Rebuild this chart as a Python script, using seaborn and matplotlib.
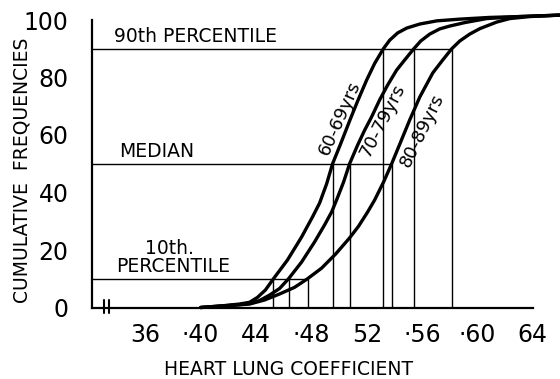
import matplotlib
matplotlib.use("Agg")
import matplotlib.pyplot as plt
import pandas as pd
import seaborn as sns

# Curves: heart lung coefficient vs cumulative frequency (%)
age_groups = ["60-69yrs", "70-79yrs", "80-89yrs"]

hlc_60 = [0.400, 0.4172, 0.4280, 0.4353, 0.4410, 0.4468, 0.4526, 0.4627, 0.4729,
          0.4808, 0.4859, 0.4910, 0.4953, 0.5011, 0.5076, 0.5134, 0.5199, 0.5257,
          0.5320, 0.5366, 0.5423, 0.5489, 0.5583, 0.5706, 0.5872, 0.6089, 0.6306,
          0.6596]
cum_60 = [0.0, 0.66, 1.2, 1.8, 3.5, 6.1, 10.0, 16.5, 24.5,
          31.5, 36.3, 43.0, 50.0, 56.9, 64.9, 71.8, 79.1, 84.9,
          90.0, 93.0, 95.5, 97.2, 98.6, 99.7, 100.3, 100.9, 101.2,
          101.7]

hlc_70 = [0.400, 0.4172, 0.4280, 0.4353, 0.4425, 0.4497, 0.4570, 0.4635, 0.4729,
          0.4823, 0.4895, 0.4946, 0.4982, 0.5033, 0.5076, 0.5134, 0.5185, 0.5235,
          0.5293, 0.5351, 0.5416, 0.5474, 0.5540, 0.5590, 0.5655, 0.5727, 0.5800,
          0.5908, 0.6067, 0.6306, 0.6596]
cum_70 = [0.0, 0.6, 1.0, 1.4, 2.4, 4.3, 6.6, 10.0, 15.8,
          22.8, 28.7, 33.2, 37.4, 43.7, 50.0, 56.5, 61.7, 66.3,
          72.2, 77.4, 82.6, 86.1, 90.0, 92.7, 95.1, 96.9, 97.9,
          99.1, 100.5, 101.2, 101.7]

hlc_80 = [0.400, 0.4172, 0.4353, 0.4461, 0.4570, 0.4678, 0.4772, 0.4874, 0.4975,
          0.5076, 0.5141, 0.5206, 0.5257, 0.5322, 0.5380, 0.5445, 0.5510, 0.5583,
          0.5677, 0.5749, 0.5814, 0.5872, 0.5944, 0.6017, 0.6140, 0.6234, 0.6379,
          0.6596]
cum_80 = [0.0, 0.5, 1.2, 2.6, 4.7, 7.0, 10.0, 13.7, 18.6,
          24.2, 28.3, 33.2, 37.4, 43.7, 50.0, 57.6, 65.2, 73.2,
          81.6, 86.1, 90.0, 92.7, 95.1, 97.0, 99.3, 100.5, 101.2,
          101.7]

# Percentile read-offs for each age group (60-69, 70-79, 80-89)
pct_levels = [10, 50, 90]
pct_10 = [0.4526, 0.4635, 0.4772]
pct_50 = [0.4953, 0.5076, 0.5380]
pct_90 = [0.5320, 0.5540, 0.5814]

x_ticks = [0.36, 0.40, 0.44, 0.48, 0.52, 0.56, 0.60, 0.64]
x_tick_labels = ["36", "·40", "44", "·48", "52", "·56", "·60", "64"]
y_ticks = [0, 20, 40, 60, 80, 100]

curves = pd.concat([
    pd.DataFrame({"hlc": hlc_60, "cum": cum_60, "group": age_groups[0]}),
    pd.DataFrame({"hlc": hlc_70, "cum": cum_70, "group": age_groups[1]}),
    pd.DataFrame({"hlc": hlc_80, "cum": cum_80, "group": age_groups[2]}),
])

sns.set_style("white", rc={"text.color": "black", "axes.labelcolor": "black",
                           "xtick.color": "black", "ytick.color": "black"})
plt.rcParams['font.family'] = ['DejaVu Sans']

fig = plt.figure(figsize=(5.6, 3.79), dpi=100)
ax = fig.add_axes([92 / 560, 71.5 / 379, 468 / 560, 299 / 379])

xmin, xmax = 0.3215, 0.6596
ax.set_xlim(xmin, xmax)
ax.set_ylim(0, 104)

# percentile guide lines
for level, xs in zip(pct_levels, [pct_10, pct_50, pct_90]):
    ax.hlines(level, xmin, max(xs), color="black", lw=1.0)
    ax.vlines(xs, 0, level, color="black", lw=1.0)

sns.lineplot(data=curves, x="hlc", y="cum", units="group", estimator=None,
             sort=False, color="black", lw=2.4, ax=ax, clip_on=False,
             solid_joinstyle="round")

# curve labels
ax.text(0.5004, 65.9, "60-69yrs", rotation=66, ha="center", va="center", fontsize=13)
ax.text(0.5315, 65.2, "70-79yrs", rotation=63, ha="center", va="center", fontsize=13)
ax.text(0.5597, 61.7, "80-89yrs", rotation=64, ha="center", va="center", fontsize=13)

ax.text(0.3376, 91, "90th PERCENTILE", ha="left", va="bottom", fontsize=13.5)
ax.text(0.3412, 51, "MEDIAN", ha="left", va="bottom", fontsize=13.5)
ax.text(0.3774, 17.2, "10th.", ha="center", va="bottom", fontsize=13.5)
ax.text(0.3800, 10.8, "PERCENTILE", ha="center", va="bottom", fontsize=13.5)

# axes styling
sns.despine(ax=ax, top=True, right=True)
ax.spines["left"].set_bounds(0, 100)
ax.spines["bottom"].set_bounds(xmin, 0.64)
for s in ["left", "bottom"]:
    ax.spines[s].set_linewidth(1.6)
    ax.spines[s].set_color("black")

ax.set_xticks(x_ticks)
ax.set_xticklabels(x_tick_labels)
ax.set_yticks(y_ticks)
ax.tick_params(axis="x", direction="in", length=6, width=1.5, pad=11, labelsize=17)
ax.tick_params(axis="y", direction="in", length=5, width=1.5, pad=17, labelsize=17)

# axis break marks
for bx in [0.0254, 0.0365]:
    ax.plot([bx, bx], [-0.02, 0.025], transform=ax.transAxes, color="black",
            lw=1.5, clip_on=False)

ax.set_xlabel("HEART LUNG COEFFICIENT", fontsize=13.5)
ax.xaxis.set_label_coords(0.419, -0.175)
ax.set_ylabel("CUMULATIVE  FREQUENCIES", fontsize=13.5)
ax.yaxis.set_label_coords(-0.13, 0.46)

fig.savefig("out.png", dpi=100)
